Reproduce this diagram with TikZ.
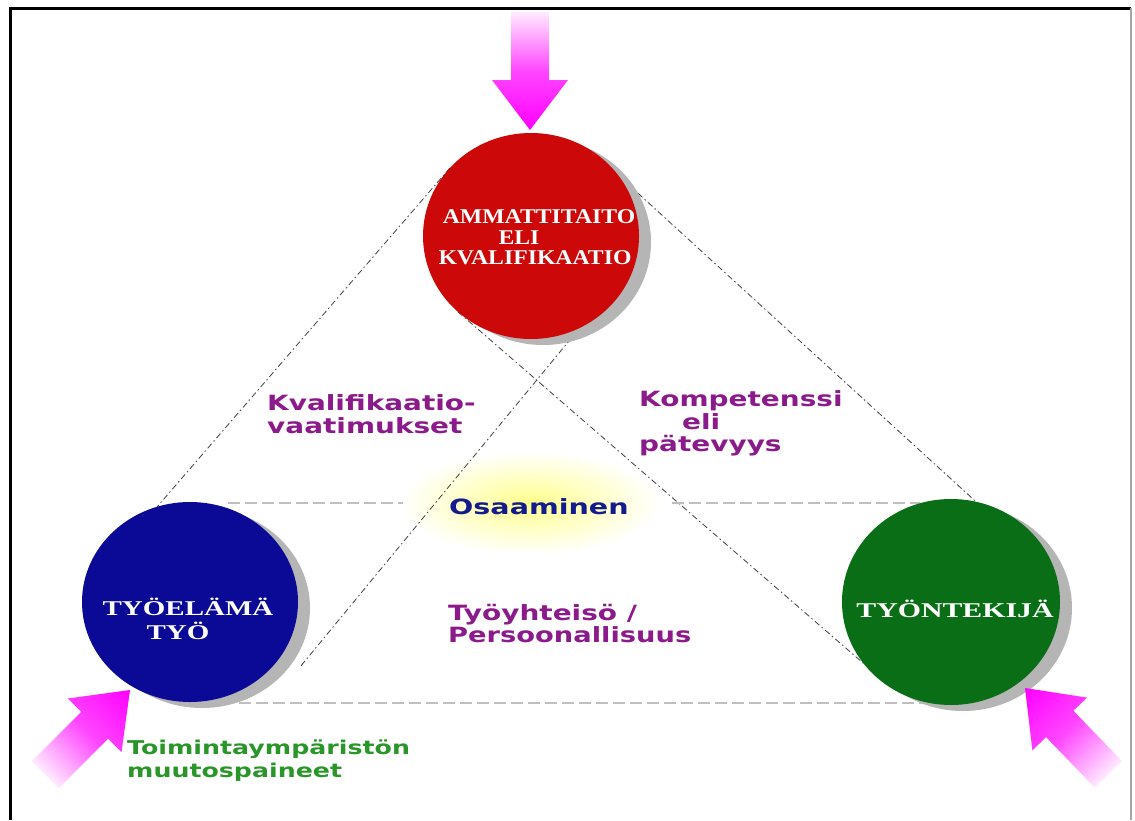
\documentclass[tikz,border=0pt]{standalone}
\usepackage{fontspec}
\usepackage{graphicx}
\setmainfont{Liberation Serif}
\newfontfamily\lblfont{DejaVu Sans}
\usetikzlibrary{shapes.geometric,backgrounds}
\definecolor{cred}{RGB}{204,8,8}
\definecolor{cblue}{RGB}{10,10,150}
\definecolor{cgreen}{RGB}{10,110,22}
\definecolor{cpurple}{RGB}{139,26,139}
\definecolor{cnavy}{RGB}{18,28,140}
\definecolor{cgtext}{RGB}{42,150,42}
\definecolor{cmag}{RGB}{255,0,255}
\definecolor{cpink}{RGB}{255,235,255}
\begin{document}
\begin{tikzpicture}[x=1pt,y=-1pt,
  disc/.style={ellipse, inner sep=0pt, outer sep=0pt},
  shadowdisc/.style={ellipse, inner sep=0pt, outer sep=0pt, fill=gray!58},
  captext/.style={text=white, anchor=base, inner sep=0pt},
  lbl/.style={font=\lblfont\bfseries\fontsize{21}{24}\selectfont, anchor=base west, inner sep=0pt, text=cpurple},
  conn/.style={draw=black!75, line width=0.8pt, dash pattern=on 6pt off 3pt on 1.5pt off 3pt},
  hline/.style={draw=gray!50, line width=1.3pt, dash pattern=on 12pt off 5pt},
  arrowshape/.style={left color=cpink, right color=cmag, middle color=cmag!70!cpink, draw=none}
]
\path[use as bounding box] (0,0) rectangle (1135,820);

% circles (shadows first)
\node[shadowdisc, minimum width=216pt, minimum height=206pt] (redsh) at (543,242) {};
\node[disc, fill=cred, minimum width=216pt, minimum height=206pt] (red) at (531,236) {};
\node[shadowdisc, minimum width=216pt, minimum height=200pt] (bluesh) at (202,608) {};
\node[disc, fill=cblue, minimum width=216pt, minimum height=200pt] (blue) at (190,602) {};
\node[shadowdisc, minimum width=218pt, minimum height=206pt] (greensh) at (963,608) {};
\node[disc, fill=cgreen, minimum width=218pt, minimum height=206pt] (green) at (951,602) {};

% free ends of connectors
\coordinate (slashend) at (300,667);
\coordinate (hl1a) at (228,503);
\coordinate (hl1b) at (403,503);
\coordinate (hl2a) at (672,503);
\coordinate (hl2b) at (920,503);
\coordinate (hl3a) at (239,703);
\coordinate (hl3b) at (934,703);

\begin{pgfonlayer}{background}
  \fill[white] (0,0) rectangle (1135,820);
  \node[ellipse, minimum width=260pt, minimum height=104pt, inner color=yellow!45, outer color=white] (glow) at (530,503) {};
  \draw[conn] (red.140) -- (blue.109);
  \draw[conn] (red.35.6) -- (green.76.6);
  \draw[conn] (red.226) -- (green.215.6);
  \draw[conn] (red.298.4) -- (slashend);
  \draw[hline] (hl1a) -- (hl1b);
  \draw[hline] (hl2a) -- (hl2b);
  \draw[hline] (hl3a) -- (hl3b);
\end{pgfonlayer}

% frame
\draw[black, line width=3pt] (10,820) -- (10,8) -- (1131,8);
\draw[gray!70, line width=1.2pt] (1131,8) -- (1131,820);

% circle texts
\begin{scope}[font=\bfseries\fontsize{21}{21}\selectfont]
\node[captext] (r1) at (539,223) {\scalebox{1.13}[1]{AMMATTITAITO}};
\node[captext] (r2) at (519,244) {\scalebox{1.13}[1]{ELI}};
\node[captext] (r3) at (535,264) {\scalebox{1.13}[1]{KVALIFIKAATIO}};
\end{scope}
\begin{scope}[font=\bfseries\fontsize{21}{21}\selectfont]
\node[captext] (b1) at (188,615) {\scalebox{1.38}[1]{TYÖELÄMÄ}};
\node[captext] (b2) at (178,639) {\scalebox{1.38}[1]{TYÖ}};
\node[captext] (gr1) at (955,617) {\scalebox{1.42}[1]{TYÖNTEKIJÄ}};
\end{scope}

% labels
\node[lbl] (q1) at (267,410) {\scalebox{1.33}[1]{Kvalifikaatio-}};
\node[lbl] (q2) at (267,433) {\scalebox{1.33}[1]{vaatimukset}};
\node[lbl] (k1) at (639,406) {\scalebox{1.33}[1]{Kompetenssi}};
\node[lbl] (k2) at (682,429) {\scalebox{1.33}[1]{eli}};
\node[lbl] (k3) at (639,451) {\scalebox{1.33}[1]{pätevyys}};
\node[lbl, text=cnavy] (os) at (449,514) {\scalebox{1.36}[1]{Osaaminen}};
\node[lbl] (p1) at (448,620) {\scalebox{1.33}[1]{Työyhteisö /}};
\node[lbl] (p2) at (448,642) {\scalebox{1.3}[1]{Persoonallisuus}};
\node[lbl, text=cgtext, font=\lblfont\bfseries\fontsize{19}{22}\selectfont] (e1) at (127,754) {\scalebox{1.33}[1]{Toimintaympäristön}};
\node[lbl, text=cgtext, font=\lblfont\bfseries\fontsize{19}{22}\selectfont] (e2) at (127,777) {\scalebox{1.33}[1]{muutospaineet}};

% pressure arrows
\begin{scope}[transform canvas={shift={(530,130)}, rotate=-90}]
  \path[arrowshape] (-118,-19) -- (-50,-19) -- (-50,-38) -- (0,0) -- (-50,38) -- (-50,19) -- (-118,19) -- cycle;
\end{scope}
\begin{scope}[transform canvas={shift={(130,690)}, rotate=45}]
  \path[arrowshape] (-120,-19) -- (-50,-19) -- (-50,-38) -- (0,0) -- (-50,38) -- (-50,19) -- (-120,19) -- cycle;
\end{scope}
\begin{scope}[transform canvas={shift={(1025,688)}, rotate=134}]
  \path[arrowshape] (-120,-19) -- (-50,-19) -- (-50,-38) -- (0,0) -- (-50,38) -- (-50,19) -- (-120,19) -- cycle;
\end{scope}
\end{tikzpicture}
\end{document}
